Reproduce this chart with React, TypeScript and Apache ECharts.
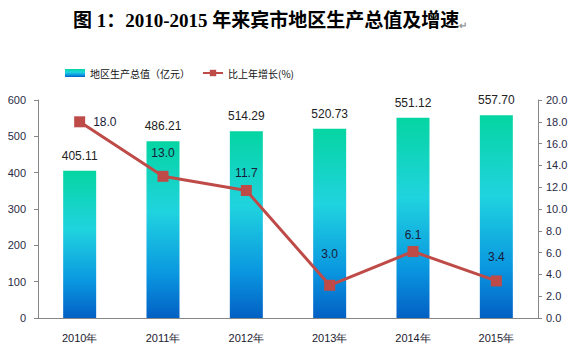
import React, { useEffect, useRef } from "react";
import * as echarts from "echarts";

const categories = ["2010年", "2011年", "2012年", "2013年", "2014年", "2015年"];
const gdpValues = [405.11, 486.21, 514.29, 520.73, 551.12, 557.7];
const growthValues = [18.0, 13.0, 11.7, 3.0, 6.1, 3.4];
const growthLabelPlacement = ["right", "top", "top", "top", "top", "top"];
const growthLabelDistance = [8, 12, 6, 20, 5, 12];

export default function App() {
  const ref = useRef<HTMLDivElement>(null);
  useEffect(() => {
    if (!ref.current) return;
    const chart = echarts.init(ref.current, null, { renderer: "svg" });
    const gradient = new echarts.graphic.LinearGradient(0, 0, 0, 1, [
      { offset: 0, color: "#05D5A2" },
      { offset: 0.4, color: "#20D3DF" },
      { offset: 0.75, color: "#0A97E0" },
      { offset: 1, color: "#0360C4" },
    ]);
    const axisText = { color: "#2b2b45", fontSize: 11, fontFamily: "Liberation Sans, Arial, sans-serif" };
    chart.setOption({
      animation: false,
      title: {
        text: "图 1：2010-2015 年来宾市地区生产总值及增速{m|↵}",
        left: 68,
        top: 6,
        textStyle: {
          fontSize: 19,
          fontWeight: "bold",
          color: "#000",
          fontFamily: "Liberation Serif, Noto Sans CJK SC, serif",
          rich: { m: { fontSize: 10, color: "#999", verticalAlign: "bottom", padding: [8, 0, 0, 0] } },
        },
      },
      legend: {
        left: 60,
        top: 63,
        itemWidth: 20,
        itemHeight: 8,
        itemGap: 12,
        textStyle: { fontSize: 10, color: "#111", fontFamily: "Noto Sans CJK SC, sans-serif" },
        data: [
          { name: "地区生产总值（亿元）", icon: "rect" },
          { name: "比上年增长(%)" },
        ],
      },
      grid: { left: 38, right: 47, top: 100, bottom: 41 },
      xAxis: {
        type: "category",
        data: categories,
        axisLine: { lineStyle: { color: "#868686" } },
        axisTick: { length: 5, lineStyle: { color: "#868686" } },
        axisLabel: { ...axisText, margin: 14, color: "#1a1a30" },
      },
      yAxis: [
        {
          type: "value",
          min: 0,
          max: 600,
          interval: 100,
          splitLine: { show: false },
          axisLine: { show: true, lineStyle: { color: "#868686" } },
          axisTick: { show: true, length: 4, lineStyle: { color: "#868686" } },
          axisLabel: { ...axisText, margin: 12 },
        },
        {
          type: "value",
          min: 0,
          max: 20,
          interval: 2,
          splitLine: { show: false },
          axisLine: { show: true, lineStyle: { color: "#868686" } },
          axisTick: { show: true, length: 4, lineStyle: { color: "#868686" } },
          axisLabel: { ...axisText, margin: 8, formatter: (v: number) => v.toFixed(1) },
        },
      ],
      series: [
        {
          name: "地区生产总值（亿元）",
          type: "bar",
          barWidth: 33,
          data: gdpValues,
          itemStyle: { color: gradient },
          label: {
            show: true,
            position: "top",
            distance: 9,
            fontSize: 12,
            color: "#222",
            fontFamily: "Liberation Sans, Arial, sans-serif",
            formatter: (p: any) => p.value.toFixed(2),
          },
        },
        {
          name: "比上年增长(%)",
          type: "line",
          yAxisIndex: 1,
          symbol: "rect",
          symbolSize: 11,
          lineStyle: { color: "#BE4B48", width: 3 },
          itemStyle: { color: "#BE4B48" },
          data: growthValues.map((v, i) => ({
            value: v,
            label: { position: growthLabelPlacement[i], distance: growthLabelDistance[i] },
          })),
          label: {
            show: true,
            fontSize: 12,
            color: "#1a1a3a",
            fontFamily: "Liberation Sans, Arial, sans-serif",
            formatter: (p: any) => Number(p.value).toFixed(1),
          },
        },
      ],
    });
    return () => chart.dispose();
  }, []);
  return <div ref={ref} style={{ width: 585, height: 359, position: "absolute", left: 0, top: 0 }} />;
}
